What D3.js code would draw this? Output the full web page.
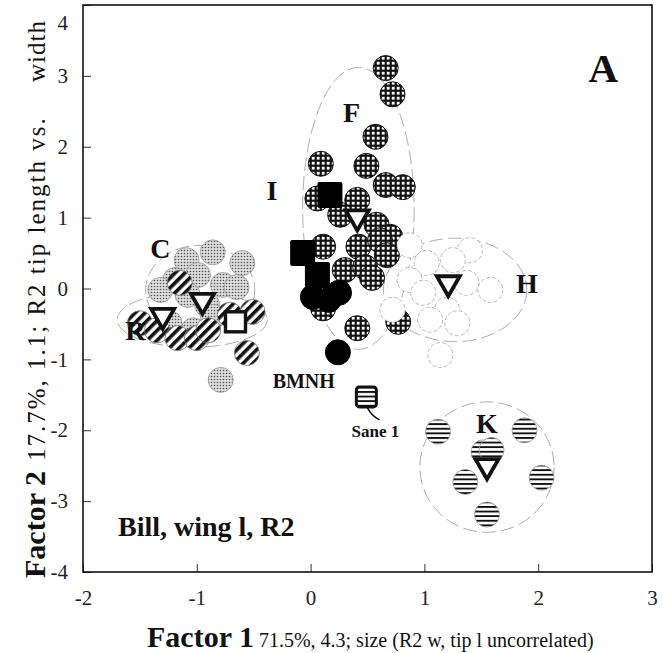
<!DOCTYPE html>
<html>
<head>
<meta charset="utf-8">
<script src="https://cdn.jsdelivr.net/npm/d3@7"></script>
<style>
  body { margin: 0; background: #fff; }
  svg { display: block; font-family: "Liberation Serif", "DejaVu Serif", serif; }
</style>
</head>
<body>
<svg id="chart" width="663" height="653"></svg>
<script>
// group points, factor scores
var groupF = [[0.66,3.11],[0.72,2.74],[0.57,2.14],[0.09,1.76],[0.49,1.73],[0.66,1.46],[0.81,1.43],
  [0.06,1.27],[0.41,1.25],[0.26,1.04],[0.58,0.90],[0.70,0.73],[0.11,0.59],[0.42,0.59],[0.61,0.68],
  [0.67,0.47],[0.30,0.26],[0.48,0.30],[0.54,0.15],[0.11,-0.28],[0.41,-0.56],[0.77,-0.47]]
var groupC = [[-0.86,0.51],[-1.09,0.40],[-0.60,0.36],[-0.99,0.19],[-1.19,0.12],[-1.32,-0.02],
  [-1.08,-0.09],[-0.77,0.05],[-0.65,0.02],[-0.91,-0.23],[-0.86,-0.40],[-1.24,-0.49],[-1.03,-0.59],[-0.79,-1.29]]
var groupR = [[-1.15,0.08],[-0.71,-0.37],[-1.50,-0.49],[-1.35,-0.59],[-1.17,-0.70],[-1.00,-0.70],
  [-0.90,-0.59],[-0.51,-0.33],[-0.56,-0.91]]
var groupH = [[0.87,0.61],[1.40,0.54],[1.02,0.36],[1.25,0.40],[0.87,0.12],[1.37,0.08],[1.58,-0.02],
  [0.99,-0.06],[1.20,-0.30],[1.05,-0.44],[1.29,-0.49],[0.72,-0.30],[1.14,-0.94]]
var groupK = [[1.12,-2.02],[1.88,-2.00],[1.52,-2.31],[1.59,-2.28],[1.36,-2.73],[2.03,-2.67],[1.55,-3.19]]
var groupI = [[0.17,1.32],[-0.07,0.50],[0.06,0.19]]
var bmnh = [[0.02,-0.12],[0.16,-0.16],[0.25,-0.06],[0.24,-0.90]]
var sane1 = [[0.49,-1.53]]

// group means
var meanTriangles = [[0.41,0.99],[1.21,0.06],[-0.95,-0.19],[-1.30,-0.40],[1.55,-2.52]]
var meanSquares = [[-0.66,-0.47]]

// group ellipses: cx, cy, rx, ry (data units)
var ellipses = [[0.42,1.13,0.49,1.99],[-0.97,-0.02,0.48,0.63],[-1.04,-0.44,0.66,0.39],
  [1.27,-0.02,0.63,0.73],[1.55,-2.52,0.59,0.92]]

var groupLabels = [['F',0.36,2.49],['I',-0.34,1.39],['C',-1.32,0.57],['R',-1.54,-0.59],
  ['H',1.90,0.08],['K',1.55,-1.90]]
var smallLabels = [['BMNH',-0.06,-1.30,20],['Sane 1',0.57,-2.01,17]]

var xTicks = [-2,-1,0,1,2,3]
var yTicks = [-4,-3,-2,-1,0,1,2,3,4]

var svg = d3.select('#chart')
var x = d3.scaleLinear().domain([-2,3]).range([83,652])
var y = d3.scaleLinear().domain([-4,4]).range([572,5])
var R = 12.5

var defs = svg.append('defs')
var pg = defs.append('pattern').attr('id','grid').attr('patternUnits','userSpaceOnUse')
  .attr('width',5).attr('height',5)
pg.append('rect').attr('width',5).attr('height',5).attr('fill','#111')
pg.append('rect').attr('x',1.8).attr('y',1.8).attr('width',2.8).attr('height',2.8).attr('fill','#fff')

var ps = defs.append('pattern').attr('id','stip').attr('patternUnits','userSpaceOnUse')
  .attr('width',3).attr('height',3)
ps.append('rect').attr('width',3).attr('height',3).attr('fill','#dcdcdc')
ps.append('circle').attr('cx',1.5).attr('cy',1.5).attr('r',0.8).attr('fill','#555')

var pd = defs.append('pattern').attr('id','diag').attr('patternUnits','userSpaceOnUse')
  .attr('width',7).attr('height',7).attr('patternTransform','rotate(45)')
pd.append('rect').attr('width',7).attr('height',7).attr('fill','#fff')
pd.append('rect').attr('width',3.6).attr('height',7).attr('fill','#111')

var ph = defs.append('pattern').attr('id','hstr').attr('patternUnits','userSpaceOnUse')
  .attr('width',5).attr('height',4.6)
ph.append('rect').attr('width',5).attr('height',4.6).attr('fill','#fff')
ph.append('rect').attr('y',0).attr('width',5).attr('height',1.9).attr('fill','#111')

// axes, ticks inside
svg.append('g').attr('transform','translate(0,572)')
  .call(d3.axisBottom(x).tickValues(xTicks).tickSize(-8).tickPadding(18).tickFormat(d => String(d)))
  .call(g => g.select('.domain').remove())
var yAxis = svg.append('g').attr('transform','translate(83,0)')
  .call(d3.axisLeft(y).tickValues(yTicks).tickSize(-8).tickPadding(15).tickFormat(d => String(d)))
  .call(g => g.select('.domain').remove())
// top label sits lower, under the frame corner
yAxis.selectAll('.tick').filter(d => d === 4).select('text').attr('dy','1.15em')
svg.selectAll('.tick text').attr('font-size',21).attr('font-family','Liberation Serif').attr('fill','#222')
svg.selectAll('.tick line').attr('stroke','#333')

svg.append('rect').attr('x',x(-2)).attr('y',y(4)).attr('width',x(3)-x(-2)).attr('height',y(-4)-y(4))
  .attr('fill','none').attr('stroke','#111').attr('stroke-width',1.6)

var plot = svg.append('g')

plot.selectAll('ellipse.grp').data(ellipses).join('ellipse')
  .attr('cx', d => x(d[0])).attr('cy', d => y(d[1]))
  .attr('rx', d => x(d[2]) - x(0)).attr('ry', d => y(0) - y(d[3]))
  .attr('fill','none').attr('stroke','#999').attr('stroke-width',0.8).attr('stroke-dasharray','14,5')

function dots (data, fill, stroke, sw, dash) {
  plot.append('g').selectAll('circle').data(data).join('circle')
    .attr('cx', d => x(d[0])).attr('cy', d => y(d[1])).attr('r', R)
    .attr('fill', fill).attr('stroke', stroke).attr('stroke-width', sw)
    .attr('stroke-dasharray', dash || null)
}
dots(groupC, 'url(#stip)', '#999', 0.8)
dots(groupR, 'url(#diag)', '#777', 0.8)
dots(groupF, 'url(#grid)', '#111', 1)

plot.append('g').selectAll('rect').data(groupI).join('rect')
  .attr('x', d => x(d[0]) - 12.5).attr('y', d => y(d[1]) - 13).attr('width',25).attr('height',26)
  .attr('rx',2).attr('fill','#000')
dots(bmnh, '#000', '#000', 1)
dots(groupH, '#fff', '#aaa', 0.8, '4,2')
dots(groupK, 'url(#hstr)', '#999', 0.8)

// Sane 1 specimen, leader to its label
plot.append('path')
  .attr('d', 'M' + x(0.50) + ',' + (y(-1.53) + 11) + ' q 4,8 12,12')
  .attr('fill','none').attr('stroke','#111').attr('stroke-width',1.5)
plot.selectAll('rect.sane').data(sane1).join('rect').attr('class','sane')
  .attr('x', d => x(d[0]) - 10).attr('y', d => y(d[1]) - 10).attr('width',20).attr('height',20)
  .attr('rx',3).attr('fill','url(#hstr)').attr('stroke','#111').attr('stroke-width',3)

plot.selectAll('path.tri').data(meanTriangles).join('path').attr('class','tri')
  .attr('d', d => {
    var cx = x(d[0]), cy = y(d[1])
    return 'M' + (cx - 11.5) + ',' + (cy - 8) + 'L' + (cx + 11.5) + ',' + (cy - 8) + 'L' + cx + ',' + (cy + 12) + 'Z'
  })
  .attr('fill','#fff').attr('stroke','#111').attr('stroke-width',3.8).attr('stroke-linejoin','miter')
plot.selectAll('rect.msq').data(meanSquares).join('rect').attr('class','msq')
  .attr('x', d => x(d[0]) - 10).attr('y', d => y(d[1]) - 10).attr('width',20).attr('height',20)
  .attr('fill','#fff').attr('stroke','#111').attr('stroke-width',3.4)

svg.selectAll('text.glab').data(groupLabels).join('text').attr('class','glab')
  .attr('x', d => x(d[1])).attr('y', d => y(d[2])).attr('dy','0.35em')
  .attr('text-anchor','middle').attr('font-size',28).attr('font-weight','bold').attr('fill','#111')
  .text(d => d[0])
svg.selectAll('text.slab').data(smallLabels).join('text').attr('class','slab')
  .attr('x', d => x(d[1])).attr('y', d => y(d[2])).attr('dy','0.35em')
  .attr('text-anchor','middle').attr('font-size', d => d[3]).attr('font-weight','bold').attr('fill','#111')
  .text(d => d[0])

svg.append('text').attr('x',618).attr('y',82)
  .attr('text-anchor','end')
  .attr('font-size',41).attr('font-weight','bold').attr('fill','#111').text('A')
svg.append('text').attr('x',118).attr('y',536)
  .attr('font-size',28).attr('font-weight','bold').attr('fill','#111').text('Bill, wing l, R2')

var xt = svg.append('text').attr('x',147).attr('y',647).attr('fill','#111')
xt.append('tspan').attr('font-size',30).attr('font-weight','bold').text('Factor 1')
xt.append('tspan').attr('font-size',20).text(' 71.5%, 4.3; size (R2 w, tip l uncorrelated)')

// y title: bold part, description, then the last word set apart near the top
var yt = svg.append('text').attr('transform','translate(45,578) rotate(-90)').attr('fill','#111')
yt.append('tspan').attr('font-size',30).attr('font-weight','bold').text('Factor 2')
yt.append('tspan').attr('font-size',25).attr('dx',10).attr('letter-spacing',2)
  .text('17.7%, 1.1; R2 tip length vs.')
svg.append('text').attr('transform','translate(45,20) rotate(-90)').attr('text-anchor','end')
  .attr('font-size',25).attr('fill','#111').attr('letter-spacing',1).text('width')
</script>
</body>
</html>
